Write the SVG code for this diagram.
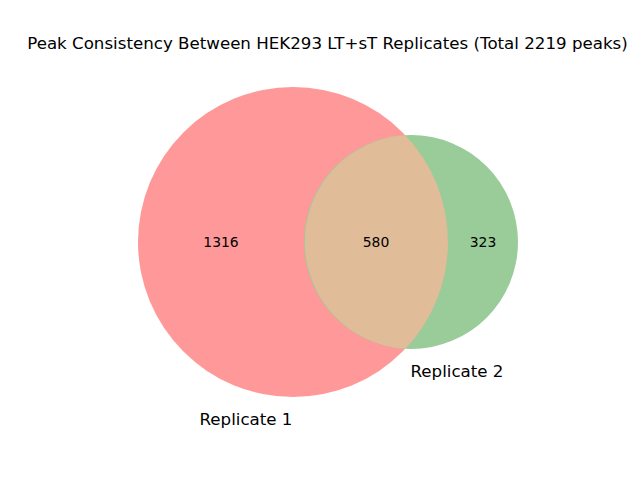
<svg xmlns="http://www.w3.org/2000/svg" width="640" height="480" viewBox="0 0 640 480">
<style>
text{font-family:"DejaVu Sans",sans-serif;fill:#000}
.t{font-size:16.67px}
.n{font-size:13.9px}
.l{font-size:16.67px}
</style>
<rect width="640" height="480" fill="#fff"/>
<g id="set1"><circle cx="293" cy="242" r="155" fill="#ff9999"/></g>
<g id="set2"><circle cx="411" cy="242" r="107" fill="#99cc99"/></g>
<g id="overlap"><path d="M405.3,135.2 A107,107 0 0 0 405.3,348.8 A155,155 0 0 0 405.3,135.2 Z" fill="#e0bc98"/></g>
<g id="connectors"></g>
<text class="t" x="327.5" y="49" text-anchor="middle">Peak Consistency Between HEK293 LT+sT Replicates (Total 2219 peaks)</text>
<text class="n" x="221" y="247" text-anchor="middle">1316</text>
<text class="n" x="376" y="247" text-anchor="middle">580</text>
<text class="n" x="483" y="247" text-anchor="middle">323</text>
<text class="l" x="246" y="425" text-anchor="middle">Replicate 1</text>
<text class="l" x="457" y="377" text-anchor="middle">Replicate 2</text>
</svg>
